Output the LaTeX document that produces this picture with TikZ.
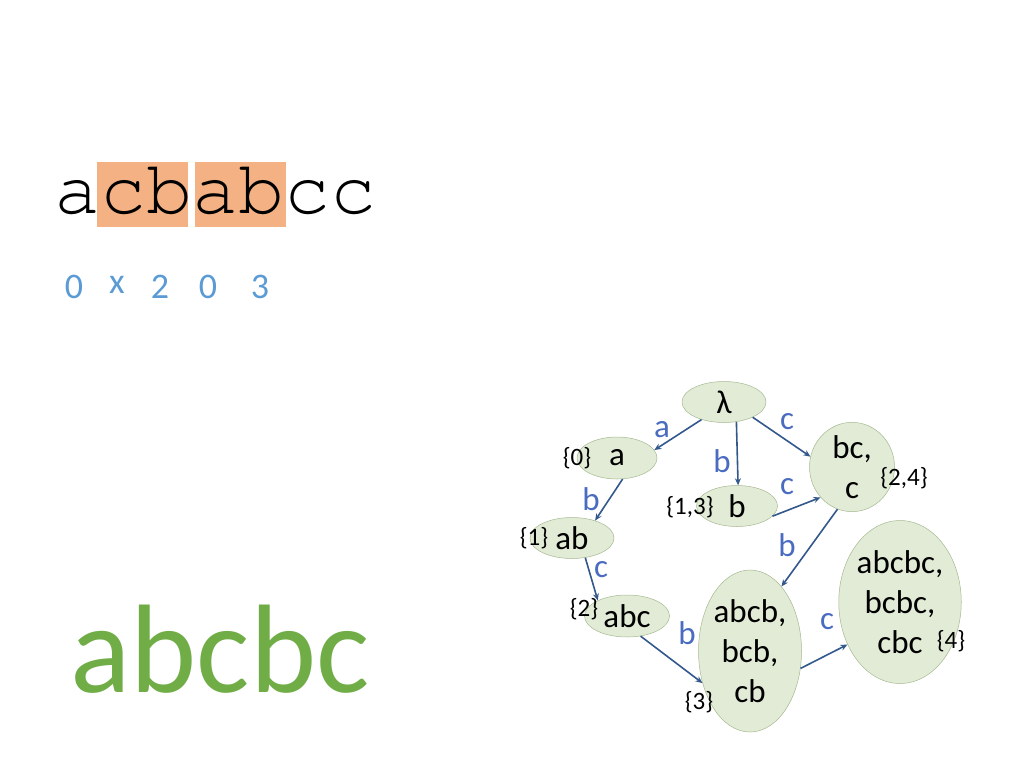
\documentclass[tikz,border=0pt]{standalone}
\usepackage{fontspec}
\setmainfont{Carlito}
\newfontfamily\monof{texgyrecursor-regular.otf}
\usetikzlibrary{shapes.geometric,arrows.meta}
\definecolor{boxor}{HTML}{F4B183}
\definecolor{numblue}{HTML}{5B9BD5}
\definecolor{biggreen}{HTML}{70AD47}
\definecolor{stfill}{RGB}{226,235,214}
\definecolor{stline}{RGB}{165,185,145}
\definecolor{edgecol}{RGB}{50,88,140}
\definecolor{lblcol}{HTML}{4A6CC0}
\tikzset{
  st/.style={ellipse,fill=stfill,draw=stline,line width=0.5pt,inner sep=0pt,font=\fontsize{33}{40}\selectfont,align=center},
  setlbl/.style={font=\fontsize{25}{30}\selectfont,inner sep=0pt},
  elbl/.style={font=\fontsize{33}{40}\selectfont,text=lblcol,inner sep=0pt},
  edge/.style={draw=edgecol,line width=1.6pt,-{Stealth[length=7pt,width=6pt]}},
  numtxt/.style={font=\fontsize{36}{40}\selectfont,text=numblue,inner sep=0pt,anchor=base}
}
\begin{document}
\begin{tikzpicture}[x=1pt,y=-1pt]
\useasboundingbox (0,0) rectangle (1024,768);
% highlighted boxes
\fill[boxor] (97,162) rectangle (188,227);
\fill[boxor] (195,162) rectangle (286,227);
\node[anchor=base west,inner sep=0pt,font=\fontsize{76.7}{80}\selectfont\monof] (str) at (54,213) {acbabcc};
% numbers
\node[numtxt] (n1) at (74,298) {0};
\node[numtxt] (n2) at (117,293) {x};
\node[numtxt] (n3) at (160,298) {2};
\node[numtxt] (n4) at (208,298) {0};
\node[numtxt] (n5) at (260,298) {3};
% big word
\node[anchor=base west,inner sep=0pt,font=\fontsize{126}{130}\selectfont,text=biggreen] (word) at (70,692) {abcbc};
% states
\node[st,minimum width=84pt,minimum height=41pt] (lam) at (724,402) {λ};
\node[st,minimum width=80pt,minimum height=42pt] (a) at (617,458) {a};
\node[st,minimum width=81pt,minimum height=41pt] (b) at (737,506) {b};
\node[st,minimum width=85pt,minimum height=83pt] (bc) at (852,467) {bc,\\c};
\node[st,minimum width=84pt,minimum height=41pt] (ab) at (572,538) {ab};
\node[st,minimum width=85pt,minimum height=42pt] (abc) at (627,616) {abc};
\node[st,minimum width=103pt,minimum height=162pt] (abcb) at (750,651) {abcb,\\bcb,\\cb};
\node[st,minimum width=102pt,minimum height=163pt] (abcbc) at (900,602) {abcbc,\\bcbc,\\cbc};
% set labels
\node[setlbl] (s0) at (577,458) {\{0\}};
\node[setlbl] (s13) at (690,507) {\{1,3\}};
\node[setlbl] (s24) at (904,478) {\{2,4\}};
\node[setlbl] (s1) at (534,538) {\{1\}};
\node[setlbl] (s2) at (584,609) {\{2\}};
\node[setlbl] (s3) at (699,702) {\{3\}};
\node[setlbl] (s4) at (951,641) {\{4\}};
% edges
\draw[edge] (lam.218) -- (a.12);
\draw[edge] (lam.302) -- (b.87);
\draw[edge] (lam.332) -- (bc.166);
\draw[edge] (b.344) -- (bc.224);
\draw[edge] (a.285) -- (ab.37);
\draw[edge] (ab.304) -- (abc.152);
\draw[edge] (bc.251) -- (abcb.64);
\draw[edge] (abc.304) -- (abcb.214);
\draw[edge] (abcb.341) -- (abcbc.219);
% edge labels
\node[elbl] (la) at (662,430) {a};
\node[elbl] (lb1) at (722,461) {b};
\node[elbl] (lc1) at (787,422) {c};
\node[elbl] (lc2) at (787,487) {c};
\node[elbl] (lb2) at (591,499) {b};
\node[elbl] (lc3) at (601,570) {c};
\node[elbl] (lb3) at (787,545) {b};
\node[elbl] (lb4) at (687,633) {b};
\node[elbl] (lc4) at (827,622) {c};
\end{tikzpicture}
\end{document}
